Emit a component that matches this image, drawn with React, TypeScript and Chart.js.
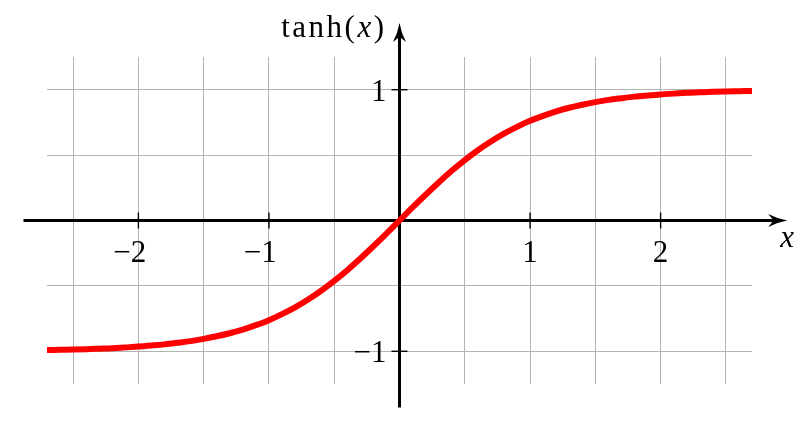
import React, { useEffect, useRef } from "react";
import { Chart, registerables } from "chart.js";

Chart.register(...registerables);

// Curve samples
const xValues = [
  -2.7, -2.6, -2.5, -2.4, -2.3, -2.2, -2.1, -2.0, -1.9, -1.8, -1.7, -1.6, -1.5, -1.4,
  -1.3, -1.2, -1.1, -1.0, -0.9, -0.8, -0.7, -0.6, -0.5, -0.4, -0.3, -0.2, -0.1, 0.0,
  0.1, 0.2, 0.3, 0.4, 0.5, 0.6, 0.7, 0.8, 0.9, 1.0, 1.1, 1.2, 1.3, 1.4,
  1.5, 1.6, 1.7, 1.8, 1.9, 2.0, 2.1, 2.2, 2.3, 2.4, 2.5, 2.6, 2.7,
];
const tanhValues = [
  -0.991, -0.989, -0.987, -0.984, -0.980, -0.976, -0.970, -0.964, -0.956, -0.947, -0.935, -0.922, -0.905, -0.885,
  -0.862, -0.834, -0.800, -0.762, -0.716, -0.664, -0.604, -0.537, -0.462, -0.380, -0.291, -0.197, -0.100, 0.0,
  0.100, 0.197, 0.291, 0.380, 0.462, 0.537, 0.604, 0.664, 0.716, 0.762, 0.800, 0.834, 0.862, 0.885,
  0.905, 0.922, 0.935, 0.947, 0.956, 0.964, 0.970, 0.976, 0.980, 0.984, 0.987, 0.989, 0.991,
];

const gridXValues = [-2.5, -2, -1.5, -1, -0.5, 0, 0.5, 1, 1.5, 2, 2.5];
const gridYValues = [-1, -0.5, 0, 0.5, 1];

const xTickValues = [-2, -1, 1, 2];
const xTickLabels = ["\u22122", "\u22121", "1", "2"];
const yTickValues = [-1, 1];
const yTickLabels = ["\u22121", "1"];

const xAxisExtent = [-2.88, 2.97];
const yAxisExtent = [-1.43, 1.51];

const xAxisTitle = "x";
const yAxisTitle = ["tanh(", "x", ")"];

const FONT = "'Liberation Serif', 'Times New Roman', serif";
const FS = 31;

function drawArrow(ctx: CanvasRenderingContext2D, tx: number, ty: number, angle: number) {
  const L = 19;
  const W = 6.5;
  ctx.save();
  ctx.translate(tx, ty);
  ctx.rotate(angle);
  ctx.beginPath();
  ctx.moveTo(0, 0);
  ctx.quadraticCurveTo(-L * 0.5, W * 0.25, -L, W);
  ctx.lineTo(-L * 0.72, 0);
  ctx.lineTo(-L, -W);
  ctx.quadraticCurveTo(-L * 0.5, -W * 0.25, 0, 0);
  ctx.closePath();
  ctx.fillStyle = "#000";
  ctx.fill();
  ctx.restore();
}

const axesPlugin = {
  id: "mathAxes",
  beforeDatasetsDraw(chart: any) {
    const ctx: any = chart.ctx;
    const xs = chart.scales.x;
    const ys = chart.scales.y;
    const x0 = xs.getPixelForValue(0);
    const y0 = ys.getPixelForValue(0);
    const xl = xs.getPixelForValue(xAxisExtent[0]);
    const xr = xs.getPixelForValue(xAxisExtent[1]);
    const yb = ys.getPixelForValue(yAxisExtent[0]);
    const yt = ys.getPixelForValue(yAxisExtent[1]);

    ctx.save();
    ctx.strokeStyle = "#000";
    ctx.lineCap = "butt";
    // tick marks
    ctx.lineWidth = 1.4;
    xTickValues.forEach((v) => {
      const px = xs.getPixelForValue(v);
      ctx.beginPath();
      ctx.moveTo(px, y0 - 8);
      ctx.lineTo(px, y0 + 8);
      ctx.stroke();
    });
    yTickValues.forEach((v) => {
      const py = ys.getPixelForValue(v);
      ctx.beginPath();
      ctx.moveTo(x0 - 8, py);
      ctx.lineTo(x0 + 8, py);
      ctx.stroke();
    });

    // axis lines
    ctx.lineWidth = 3;
    ctx.beginPath();
    ctx.moveTo(xl, y0);
    ctx.lineTo(xr - 12, y0);
    ctx.stroke();
    ctx.beginPath();
    ctx.moveTo(x0, yb);
    ctx.lineTo(x0, yt + 12);
    ctx.stroke();
    drawArrow(ctx, xr, y0, 0);
    drawArrow(ctx, x0, yt, -Math.PI / 2);

    // tick labels
    ctx.fillStyle = "#000";
    ctx.font = `${FS}px ${FONT}`;
    ctx.textBaseline = "alphabetic";
    const digitW = ctx.measureText("2").width;
    xTickValues.forEach((v, i) => {
      const px = xs.getPixelForValue(v);
      ctx.textAlign = "right";
      ctx.fillText(xTickLabels[i], px + digitW / 2, y0 + 41);
    });
    yTickValues.forEach((v, i) => {
      const py = ys.getPixelForValue(v);
      ctx.textAlign = "right";
      ctx.fillText(yTickLabels[i], x0 - 13, py + 11);
    });

    // axis titles
    ctx.font = `italic ${FS}px ${FONT}`;
    ctx.textAlign = "center";
    ctx.fillText(xAxisTitle, xr, y0 + 26);

    const upright = `${FS}px ${FONT}`;
    const italic = `italic ${FS}px ${FONT}`;
    const fonts = [upright, italic, upright];
    ctx.letterSpacing = "2.5px";
    const widths = yAxisTitle.map((t: string, i: number) => {
      ctx.font = fonts[i];
      return ctx.measureText(t).width;
    });
    const total = widths.reduce((a: number, b: number) => a + b, 0);
    let cx = x0 - 13 - total;
    ctx.textAlign = "left";
    yAxisTitle.forEach((t: string, i: number) => {
      ctx.font = fonts[i];
      ctx.fillText(t, cx, 37);
      cx += widths[i];
    });
    ctx.letterSpacing = "0px";
    ctx.restore();
  },
};

export default function App() {
  const ref = useRef<HTMLCanvasElement | null>(null);
  useEffect(() => {
    if (!ref.current) return;
    const chart = new Chart(ref.current, {
      type: "line",
      data: {
        datasets: [
          {
            data: xValues.map((x, i) => ({ x, y: tanhValues[i] })),
            borderColor: "#ff0000",
            borderWidth: 6,
            pointRadius: 0,
            fill: false,
            cubicInterpolationMode: "monotone",
            borderCapStyle: "butt",
          },
        ],
      },
      options: {
        responsive: false,
        animation: false,
        layout: { padding: { left: 47, right: 48, top: 57, bottom: 56 } },
        plugins: { legend: { display: false }, tooltip: { enabled: false } },
        scales: {
          x: {
            type: "linear",
            min: -2.7,
            max: 2.7,
            afterBuildTicks: (s: any) => {
              s.ticks = gridXValues.map((v) => ({ value: v }));
            },
            afterFit: (s: any) => {
              s.height = 0;
            },
            ticks: { display: false },
            border: { display: false },
            grid: { color: "#b4b4b4", lineWidth: 1, drawTicks: false },
          },
          y: {
            type: "linear",
            min: -1.25,
            max: 1.25,
            afterBuildTicks: (s: any) => {
              s.ticks = gridYValues.map((v) => ({ value: v }));
            },
            afterFit: (s: any) => {
              s.width = 0;
            },
            ticks: { display: false },
            border: { display: false },
            grid: { color: "#b4b4b4", lineWidth: 1, drawTicks: false },
          },
        },
      },
      plugins: [axesPlugin],
    } as any);
    return () => chart.destroy();
  }, []);
  return (
    <div style={{ position: "absolute", left: 0, top: 0, width: 800, height: 440, background: "#fff" }}>
      <canvas ref={ref} width={800} height={440} />
    </div>
  );
}
